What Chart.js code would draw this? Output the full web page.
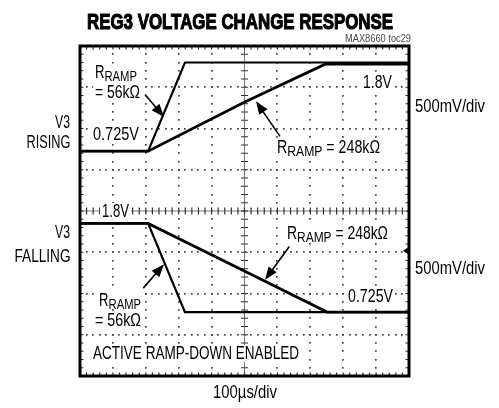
<!DOCTYPE html>
<html><head><meta charset="utf-8">
<script src="https://cdn.jsdelivr.net/npm/chart.js@4/dist/chart.umd.min.js"></script>
<style>html,body{margin:0;padding:0;background:#fff}#wrap{width:499px;height:408px;position:relative}</style>
</head><body><div id="wrap"><canvas id="c" width="499" height="408"></canvas></div>
<script>
// ---- data (time in µs, voltage in V) ----
const risingFastT  = [0, 207, 319, 1000];
const risingFastV  = [0.725, 0.725, 1.8, 1.8];
const risingSlowT  = [0, 207, 501, 745, 1000];
const risingSlowV  = [0.725, 0.725, 1.32, 1.78, 1.78];
const fallingFastT = [0, 207, 319, 1000];
const fallingFastV = [1.8, 1.8, 0.725, 0.725];
const fallingSlowT = [0, 207, 501, 751, 1000];
const fallingSlowV = [1.8, 1.8, 1.22, 0.725, 0.725];
// channel screen offsets (display positions of each channel's ground, V on screen)
const risingOffset = 0;
const fallingOffset = -1.95;
// axis settings: 100µs/div (10 div), 500mV/div (8 div)
const timePerDiv = 100, voltPerDiv = 0.5;

const FONT = '"Liberation Sans", Arial, sans-serif';
const FS = 17.5;

function pts(T, V, off){ return T.map((t,i)=>({x:t, y:V[i]+off})); }

function drawRuns(ctx, runs, x, yc, align, targetW, bg, bold, sw){
  const widths = runs.map(r=>{ctx.font=(bold?'bold ':'')+r.s+'px '+FONT; return ctx.measureText(r.t).width;});
  const total = widths.reduce((a,b)=>a+b,0);
  const sx = targetW ? targetW/total : 0.86;
  const W = total*sx;
  const x0 = align==='right' ? x-W : align==='center' ? x-W/2 : x;
  const base = yc + 0.716*runs[0].s/2;
  if(bg){ ctx.fillStyle='#fff'; ctx.fillRect(x0-2, yc-runs[0].s*0.45, W+4, runs[0].s*0.95); }
  ctx.save(); ctx.translate(x0, base); ctx.scale(sx,1);
  ctx.fillStyle='#000'; ctx.strokeStyle='#000'; ctx.textAlign='left'; ctx.textBaseline='alphabetic';
  let cx=0;
  runs.forEach((r,i)=>{ ctx.font=(bold?'bold ':'')+r.s+'px '+FONT; ctx.fillText(r.t,cx,r.dy||0); if(sw){ctx.lineWidth=sw;ctx.strokeText(r.t,cx,r.dy||0);} cx+=widths[i]; });
  ctx.restore();
}
const R = (rest)=>[{t:'R',s:FS},{t:'RAMP',s:15,dy:3}].concat(rest?[{t:rest,s:FS}]:[]);

// in-plot labels, positions in divisions (dx from left, dy from centre)
const plotLabels = [
  {runs:R(), dx:0.456, dy:3.38, align:'left', w:42},
  {runs:[{t:'= 56kΩ',s:FS}], dx:0.456, dy:2.894, align:'left', w:45},
  {runs:[{t:'0.725V',s:FS}], dx:0.395, dy:1.875, align:'left', w:46},
  {runs:[{t:'1.8V',s:FS}], dx:9.483, dy:3.144, align:'right', w:29},
  {runs:R(' = 248kΩ'), dx:5.988, dy:1.547, align:'left', w:103},
  {runs:[{t:'1.8V',s:FS}], dx:0.669, dy:0.0, align:'left', w:27},
  {runs:R(' = 248kΩ'), dx:6.292, dy:-0.528, align:'left', w:101},
  {runs:[{t:'0.725V',s:FS}], dx:9.514, dy:-2.057, align:'right', w:45},
  {runs:R(), dx:0.578, dy:-2.147, align:'left', w:42},
  {runs:[{t:'= 56kΩ',s:FS}], dx:0.456, dy:-2.632, align:'left', w:46},
  {runs:[{t:'ACTIVE RAMP-DOWN ENABLED',s:FS}], dx:0.395, dy:-3.448, align:'left', w:206}
];
// arrows: tail -> tip, in divisions
const arrows = [
  [1.976, 2.822, 2.553, 2.280],
  [6.079, 1.809, 5.350, 2.659],
  [6.362, -0.860, 5.623, -1.669],
  [1.924, -1.870, 2.553, -1.288]
];

function toPx(chart, dx, dy){
  return [chart.scales.x.getPixelForValue(dx*timePerDiv), chart.scales.y.getPixelForValue(dy*voltPerDiv)];
}

const scopePlugin = {
  id:'scope',
  beforeDatasetsDraw(chart){
    const ctx=chart.ctx, a=chart.chartArea;
    const w=a.right-a.left, h=a.bottom-a.top, gx=w/10, gy=h/8;
    ctx.save();
    ctx.fillStyle='#444';
    for(let k=1;k<10;k++){ if(k===5) continue; const x=a.left+k*gx;
      for(let j=1;j<40;j++){ const y=a.top+j*gy/5; ctx.fillRect(Math.round(x)-1,Math.round(y)-1,1.7,1.7);} }
    for(let k=1;k<8;k++){ if(k===4) continue; const y=a.top+k*gy;
      for(let j=1;j<50;j++){ const x=a.left+j*gx/5; ctx.fillRect(Math.round(x)-1,Math.round(y)-1,1.7,1.7);} }
    const cx=a.left+5*gx, cy=a.top+4*gy;
    ctx.strokeStyle='#777'; ctx.lineWidth=1;
    ctx.beginPath(); ctx.moveTo(a.left,cy); ctx.lineTo(a.right,cy); ctx.moveTo(cx,a.top); ctx.lineTo(cx,a.bottom); ctx.stroke();
    ctx.strokeStyle='#333'; ctx.lineWidth=1.2; ctx.beginPath();
    for(let j=1;j<50;j++){ const x=a.left+j*gx/5; ctx.moveTo(x,cy-3.5); ctx.lineTo(x,cy+3.5);
      ctx.moveTo(x,a.top); ctx.lineTo(x,a.top+3.5); ctx.moveTo(x,a.bottom); ctx.lineTo(x,a.bottom-3.5); }
    for(let j=1;j<40;j++){ const y=a.top+j*gy/5; ctx.moveTo(cx-3.5,y); ctx.lineTo(cx+3.5,y);
      ctx.moveTo(a.left,y); ctx.lineTo(a.left+3.5,y); ctx.moveTo(a.right,y); ctx.lineTo(a.right-3.5,y); }
    ctx.stroke();
    plotLabels.forEach(L=>{ const [px,py]=toPx(chart,L.dx,L.dy); drawRuns(ctx,L.runs,px,py,L.align,L.w,true); });
    ctx.restore();
  },
  afterDatasetsDraw(chart){
    const ctx=chart.ctx, a=chart.chartArea;
    ctx.save();
    ctx.fillStyle='#000'; ctx.strokeStyle='#000';
    arrows.forEach(ar=>{
      const [x1,y1]=toPx(chart,ar[0],ar[1]); const [x2,y2]=toPx(chart,ar[2],ar[3]);
      const ang=Math.atan2(y2-y1,x2-x1), c=Math.cos(ang), s=Math.sin(ang), Lh=13, Wh=5;
      ctx.lineWidth=1.6; ctx.beginPath(); ctx.moveTo(x1,y1); ctx.lineTo(x2-Lh*0.7*c,y2-Lh*0.7*s); ctx.stroke();
      ctx.beginPath(); ctx.moveTo(x2,y2); ctx.lineTo(x2-Lh*c+Wh*s,y2-Lh*s-Wh*c); ctx.lineTo(x2-Lh*c-Wh*s,y2-Lh*s+Wh*c); ctx.closePath(); ctx.fill();
    });
    // channel marker on right edge
    const [, my]=toPx(chart,10,-0.965);
    ctx.beginPath(); ctx.moveTo(a.right-6,my); ctx.lineTo(a.right,my-4); ctx.lineTo(a.right,my+4); ctx.closePath(); ctx.fill();
    ctx.lineWidth=3; ctx.strokeRect(a.left,a.top,a.right-a.left,a.bottom-a.top);
    // outside texts
    drawRuns(ctx,[{t:'REG3 VOLTAGE CHANGE RESPONSE',s:22.5}],240,21,'center',306,false,true,1.1);
    ctx.save(); ctx.globalAlpha=0.75;
    drawRuns(ctx,[{t:'MAX8660 toc29',s:10}],411,38,'right',66,false);
    ctx.restore();
    drawRuns(ctx,[{t:'V3',s:FS}],70,122,'right',15);
    drawRuns(ctx,[{t:'RISING',s:FS}],70.5,142,'right',44);
    drawRuns(ctx,[{t:'V3',s:FS}],70,232,'right',15);
    drawRuns(ctx,[{t:'FALLING',s:FS}],70.5,256,'right',56);
    drawRuns(ctx,[{t:'500mV/div',s:FS}],415,106,'left',70);
    drawRuns(ctx,[{t:'500mV/div',s:FS}],415,268,'left',70);
    drawRuns(ctx,[{t:'100µs/div',s:FS}],245,392,'center',64);
    ctx.restore();
  }
};

const ds = (T,V,off,bw)=>({data:pts(T,V,off), borderColor:'#000', borderWidth:bw, pointRadius:0, showLine:true, fill:false, tension:0});

new Chart(document.getElementById('c'), {
  type:'scatter',
  data:{datasets:[
    ds(risingFastT, risingFastV, risingOffset, 2.2),
    ds(risingSlowT, risingSlowV, risingOffset, 2.8),
    ds(fallingFastT, fallingFastV, fallingOffset, 2.2),
    ds(fallingSlowT, fallingSlowV, fallingOffset, 2.8)
  ]},
  options:{
    responsive:false, animation:false, devicePixelRatio:1,
    layout:{padding:{left:80,right:90,top:46,bottom:32}},
    scales:{
      x:{type:'linear', min:0, max:10*timePerDiv, display:false},
      y:{type:'linear', min:-4*voltPerDiv, max:4*voltPerDiv, display:false}
    },
    plugins:{legend:{display:false}, tooltip:{enabled:false}, title:{display:false}}
  },
  plugins:[scopePlugin]
});
</script>
</body></html>
